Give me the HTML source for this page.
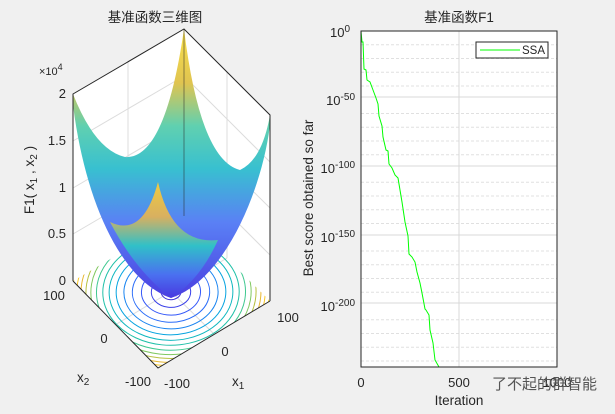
<!DOCTYPE html>
<html><head><meta charset="utf-8"><style>
html,body{margin:0;padding:0;background:#f0f0f0;}
svg{display:block;font-family:"Liberation Sans","Noto Sans CJK SC",sans-serif;}
</style></head><body>
<svg width="615" height="414" viewBox="0 0 615 414" xmlns="http://www.w3.org/2000/svg">
<defs>
<linearGradient id="g" x1="0" y1="0" x2="0" y2="1">
<stop offset="0" stop-color="#f9e04a"/><stop offset="0.2" stop-color="#e0c450"/>
<stop offset="0.36" stop-color="#60d0b0"/><stop offset="0.52" stop-color="#38c0d0"/>
<stop offset="0.72" stop-color="#5a80f5"/><stop offset="1" stop-color="#4a3fe0"/></linearGradient>
<linearGradient id="g2" x1="0" y1="0" x2="0" y2="1">
<stop offset="0" stop-color="#f0cc40"/><stop offset="0.3" stop-color="#d8b060"/>
<stop offset="0.55" stop-color="#30c0c8"/><stop offset="0.8" stop-color="#4a70f0"/><stop offset="1" stop-color="#4838e0"/></linearGradient>
<clipPath id="fl"><polygon points="73,281 158,368 270,301 184,216"/></clipPath>
</defs>
<polygon points="73,94 184,29 184,216 73,281" fill="#fff"/>
<polygon points="184,29 270,115 270,301 184,216" fill="#fff"/>
<polygon points="73,281 158,368 270,301 184,216" fill="#fff"/>
<g stroke="#dcdcdc" stroke-width="1">
<line x1="73" y1="141" x2="184" y2="76"/><line x1="73" y1="188" x2="184" y2="123"/><line x1="73" y1="234" x2="184" y2="169"/>
<line x1="184" y1="76" x2="270" y2="162"/><line x1="184" y1="123" x2="270" y2="208"/><line x1="184" y1="169" x2="270" y2="255"/>
<line x1="128" y1="62" x2="128" y2="249"/><line x1="227" y1="72" x2="227" y2="258"/>
<line x1="128" y1="249" x2="214" y2="334"/><line x1="115" y1="325" x2="227" y2="258"/>
</g>
<g clip-path="url(#fl)" fill="none" stroke-width="1">
<g transform="matrix(0.56,-0.335,-0.425,-0.435,171,292)">
<circle r="14" stroke="#3a30d8" vector-effect="non-scaling-stroke"/>
<circle r="28" stroke="#3a40e8" vector-effect="non-scaling-stroke"/>
<circle r="42" stroke="#3558f8" vector-effect="non-scaling-stroke"/>
<circle r="55" stroke="#2a6cf8" vector-effect="non-scaling-stroke"/>
<circle r="67" stroke="#1a84f0" vector-effect="non-scaling-stroke"/>
<circle r="78" stroke="#08a4e0" vector-effect="non-scaling-stroke"/>
<circle r="88" stroke="#10b8c0" vector-effect="non-scaling-stroke"/>
<circle r="97" stroke="#20c0a8" vector-effect="non-scaling-stroke"/>
<circle r="106" stroke="#40c890" vector-effect="non-scaling-stroke"/>
<circle r="114" stroke="#80c860" vector-effect="non-scaling-stroke"/>
<circle r="121" stroke="#b8c040" vector-effect="non-scaling-stroke"/>
<circle r="128" stroke="#e8b830" vector-effect="non-scaling-stroke"/>
<circle r="134" stroke="#f8c828" vector-effect="non-scaling-stroke"/>
<circle r="140" stroke="#f8e020" vector-effect="non-scaling-stroke"/>
</g></g>
<path d="M73,94 Q95,150 125,157 Q165,160 184,29 Q200,160 240,170 Q262,160 270,115 L270,125 C262,190 225,280 171,298 C120,280 85,200 73,105 Z" fill="url(#g)"/>
<path d="M110,222 Q143,238 158,182 Q172,245 218,240 Q200,280 171,298 Q135,270 110,222 Z" fill="url(#g2)"/>
<line x1="184" y1="29" x2="184" y2="216" stroke="#262626" stroke-opacity="0.5"/>
<g stroke="#262626" stroke-width="1" fill="none">
<polyline points="73,281 73,94 184,29 270,115 270,301"/>
<polyline points="73,281 158,368 270,301"/>
</g>
<g font-size="13" fill="#262626">
<text x="155" y="22" text-anchor="middle" font-size="13.5">基准函数三维图</text>
<text x="39" y="75" font-size="11">×10<tspan dy="-5" font-size="9">4</tspan></text>
<g text-anchor="end"><text x="66" y="285">0</text><text x="66" y="238">0.5</text><text x="66" y="192">1</text><text x="66" y="145">1.5</text><text x="66" y="98">2</text></g>
<text transform="translate(34,180) rotate(-90)" text-anchor="middle" font-size="13.5">F1( x<tspan font-size="10" dy="3">1</tspan><tspan dy="-3"> , x</tspan><tspan font-size="10" dy="3">2</tspan><tspan dy="-3"> )</tspan></text>
<text x="54" y="300" text-anchor="middle">100</text><text x="104" y="343" text-anchor="middle">0</text><text x="138" y="386" text-anchor="middle">-100</text>
<text x="77" y="382" font-size="13.5">x<tspan font-size="10" dy="3">2</tspan></text>
<text x="177" y="388" text-anchor="middle">-100</text><text x="225" y="356" text-anchor="middle">0</text><text x="288" y="322" text-anchor="middle">100</text>
<text x="232" y="386" font-size="13.5">x<tspan font-size="10" dy="3">1</tspan></text>
</g>
<rect x="361" y="31" width="196" height="336" fill="#fff"/>
<g stroke="#e0e0e0" stroke-dasharray="3,2">
<line x1="361" y1="44.8" x2="557" y2="44.8"/><line x1="361" y1="58.5" x2="557" y2="58.5"/><line x1="361" y1="72.3" x2="557" y2="72.3"/><line x1="361" y1="86" x2="557" y2="86"/>
<line x1="361" y1="113.5" x2="557" y2="113.5"/><line x1="361" y1="127.3" x2="557" y2="127.3"/><line x1="361" y1="141" x2="557" y2="141"/><line x1="361" y1="154.8" x2="557" y2="154.8"/>
<line x1="361" y1="182.3" x2="557" y2="182.3"/><line x1="361" y1="196" x2="557" y2="196"/><line x1="361" y1="209.8" x2="557" y2="209.8"/><line x1="361" y1="223.5" x2="557" y2="223.5"/>
<line x1="361" y1="251" x2="557" y2="251"/><line x1="361" y1="264.8" x2="557" y2="264.8"/><line x1="361" y1="278.5" x2="557" y2="278.5"/><line x1="361" y1="292.3" x2="557" y2="292.3"/>
<line x1="361" y1="319.8" x2="557" y2="319.8"/><line x1="361" y1="333.5" x2="557" y2="333.5"/><line x1="361" y1="347.3" x2="557" y2="347.3"/><line x1="361" y1="361" x2="557" y2="361"/>
</g>
<g stroke="#d8d8d8"><line x1="361" y1="97" x2="557" y2="97"/><line x1="361" y1="166" x2="557" y2="166"/><line x1="361" y1="235" x2="557" y2="235"/><line x1="361" y1="303" x2="557" y2="303"/><line x1="459" y1="31" x2="459" y2="367"/></g>
<polyline fill="none" stroke="#00ff00" stroke-width="1" points="361,31 362,42 363,42 364,69 366,70 367,80 370,82 373,90 376,98 378,104 379,116 382,126 383,137 386,150 388,151 389,164 392,168 395,175 398,178 400,190 402,202 405,222 408,236 409,254 412,257 415,262 417,272 420,283 422,293 425,309 426,310 429,315 430,330 433,343 435,360 439,367"/>
<rect x="361" y="31" width="196" height="336" fill="none" stroke="#262626"/>
<rect x="476" y="42" width="72" height="16" fill="#fff" stroke="#262626"/>
<line x1="480" y1="50" x2="520" y2="50" stroke="#00ff00"/>
<g font-size="13" fill="#262626">
<text x="522" y="54" font-size="11.5">SSA</text>
<text x="459" y="22" text-anchor="middle" font-size="13.5">基准函数F1</text>
<g text-anchor="end"><text x="350" y="37">10<tspan font-size="10" dy="-5">0</tspan></text><text x="355" y="105">10<tspan font-size="10" dy="-5">-50</tspan></text><text x="355" y="173">10<tspan font-size="10" dy="-5">-100</tspan></text><text x="355" y="242">10<tspan font-size="10" dy="-5">-150</tspan></text><text x="355" y="311">10<tspan font-size="10" dy="-5">-200</tspan></text></g>
<text transform="translate(313,198) rotate(-90)" text-anchor="middle" font-size="13.5">Best score obtained so far</text>
<text x="361" y="387" text-anchor="middle">0</text><text x="459" y="387" text-anchor="middle">500</text><text x="557" y="387" text-anchor="middle">1000</text>
<text x="459" y="405" text-anchor="middle" font-size="13.5">Iteration</text>
<text x="492" y="389" font-size="15" fill="#555">了不起的群智能</text>
</g>
</svg>
</body></html>
